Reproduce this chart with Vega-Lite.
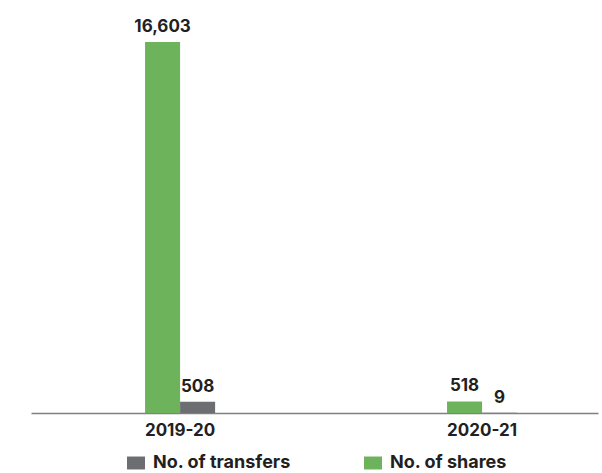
{
  "$schema": "https://vega.github.io/schema/vega-lite/v6.json",
  "width": 567,
  "height": 371,
  "autosize": {"type": "none"},
  "padding": {"left": 31, "top": 42, "right": 4, "bottom": 60},
  "background": "white",
  "config": {"view": {"stroke": null}, "font": "Inter"},
  "data": {
    "values": [
      {"year": "2019-20", "series": "No. of shares", "value": 16603},
      {"year": "2019-20", "series": "No. of transfers", "value": 508},
      {"year": "2020-21", "series": "No. of shares", "value": 518},
      {"year": "2020-21", "series": "No. of transfers", "value": 9}
    ]
  },
  "encoding": {
    "x": {
      "field": "year",
      "type": "nominal",
      "scale": {"paddingInner": 0.768, "paddingOuter": 0.3228, "align": 0.585},
      "axis": {
        "title": null,
        "labelAngle": 0,
        "ticks": false,
        "domainColor": "#808080",
        "domainWidth": 1.5,
        "labelFont": "Inter",
        "labelFontSize": 17,
        "labelFontWeight": "bold",
        "labelColor": "#231f20",
        "labelPadding": 9
      }
    },
    "xOffset": {
      "field": "series",
      "type": "nominal",
      "sort": ["No. of shares", "No. of transfers"],
      "scale": {"paddingInner": 0, "paddingOuter": 0}
    },
    "y": {
      "field": "value",
      "type": "quantitative",
      "scale": {"domain": [0, 16603], "nice": false},
      "axis": null
    }
  },
  "layer": [
    {
      "mark": {"type": "bar"},
      "encoding": {
        "color": {
          "field": "series",
          "type": "nominal",
          "scale": {"domain": ["No. of transfers", "No. of shares"], "range": ["#6d6e71", "#6db35c"]},
          "legend": {
            "orient": "none",
            "legendX": 96,
            "legendY": 412,
            "direction": "horizontal",
            "title": null,
            "padding": 0,
            "symbolType": "M-1,-0.72H1V0.72H-1Z",
            "symbolSize": 324,
            "symbolStrokeWidth": 0,
            "symbolOpacity": 1,
            "labelFont": "Inter",
            "labelFontSize": 18,
            "labelFontWeight": "bold",
            "labelColor": "#231f20",
            "labelOffset": 8,
            "labelLimit": 300,
            "columnPadding": 73
          }
        }
      }
    },
    {
      "mark": {"type": "text", "baseline": "alphabetic", "dy": -10, "font": "Inter", "fontWeight": "bold", "fontSize": 17, "color": "#231f20"},
      "encoding": {"text": {"field": "value", "type": "quantitative", "format": ","}}
    }
  ]
}
